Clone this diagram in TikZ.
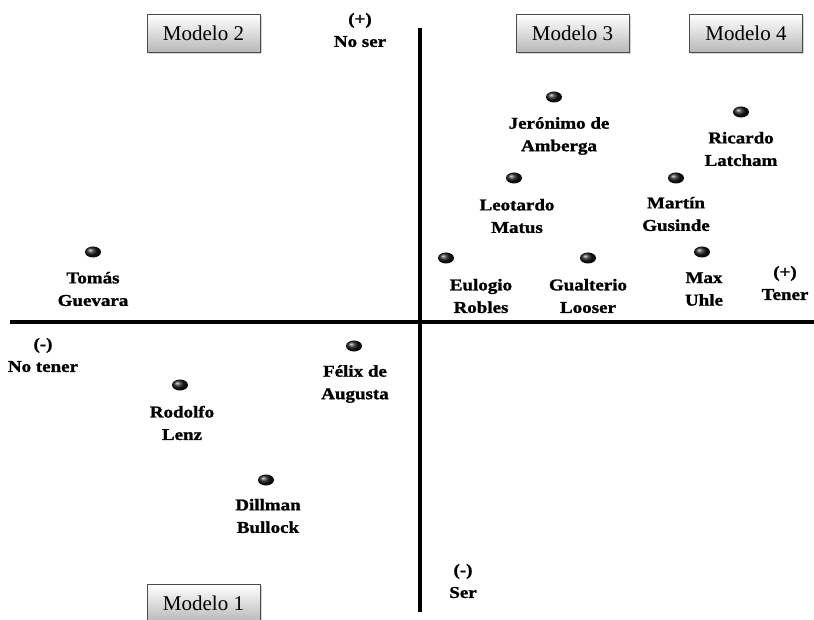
\documentclass[tikz,border=0pt]{standalone}
\usepackage{fontspec}
\setmainfont{Liberation Serif}
\newfontfamily\lblfont{Liberation Serif}[FakeStretch=1.15,BoldFeatures={FakeBold=1.3}]
\usetikzlibrary{shadows,shapes.geometric}
\begin{document}
\begin{tikzpicture}[x=1pt,y=-1pt,
  axis/.style={line width=4.2pt,black},
  modelbox/.style={draw=black!70,line width=0.6pt,top color=white,bottom color=black!28,
    minimum width=113pt,minimum height=38pt,inner sep=0pt,font=\fontsize{21}{24}\selectfont,
    drop shadow={shadow xshift=1.5pt,shadow yshift=-1.5pt,opacity=0.35}},
  dot/.style={ellipse,inner sep=0pt,minimum width=16pt,minimum height=11pt,
    ball color=black!90,shading=ball},
  lbl/.style={align=center,font=\lblfont\fontsize{16.5}{22.5}\selectfont\bfseries,inner sep=0pt}
]
\useasboundingbox (0,0) rectangle (814,620);
% axes
\coordinate (hl) at (10,322);
\coordinate (hr) at (814,322);
\coordinate (vt) at (420,28);
\coordinate (vb) at (420,612);
\draw[axis] (hl) -- (hr);
\draw[axis] (vt) -- (vb);
% model boxes
\node[modelbox] (m2) at (203.5,33.5) {Modelo 2};
\node[modelbox] (m3) at (572.5,33.5) {Modelo 3};
\node[modelbox] (m4) at (746,33.5) {Modelo 4};
\node[modelbox,anchor=north] (m1) at (203.5,584) {Modelo 1};
% axis labels
\node[lbl] (noser) at (360,30) {(+)\\No ser};
\node[lbl] (ser) at (463,581) {(-)\\Ser};
\node[lbl] (tener) at (785,283) {(+)\\Tener};
\node[lbl] (notener) at (43,355) {(-)\\No tener};
% dots
\node[dot] (d1) at (554,97) {};
\node[dot] (d2) at (741,112) {};
\node[dot] (d3) at (514,178) {};
\node[dot] (d4) at (676,178) {};
\node[dot] (d5) at (446,258) {};
\node[dot] (d6) at (588,258) {};
\node[dot] (d7) at (702,252) {};
\node[dot] (d8) at (93,252) {};
\node[dot] (d9) at (354,346) {};
\node[dot] (d10) at (180,385) {};
\node[dot] (d11) at (266,480) {};
% names
\node[lbl] (n1) at (559,136) {Jerónimo de\\Amberga};
\node[lbl] (n2) at (741,149) {Ricardo\\Latcham};
\node[lbl] (n3) at (517,216) {Leotardo\\Matus};
\node[lbl] (n4) at (676,214) {Martín\\Gusinde};
\node[lbl] (n5) at (481,296) {Eulogio\\Robles};
\node[lbl] (n6) at (588,296) {Gualterio\\Looser};
\node[lbl] (n7) at (704,289) {Max\\Uhle};
\node[lbl] (n8) at (93,289) {Tomás\\Guevara};
\node[lbl] (n9) at (355,384) {Félix de\\Augusta};
\node[lbl] (n10) at (182,423) {Rodolfo\\Lenz};
\node[lbl] (n11) at (268,516) {Dillman\\Bullock};
\end{tikzpicture}
\end{document}
